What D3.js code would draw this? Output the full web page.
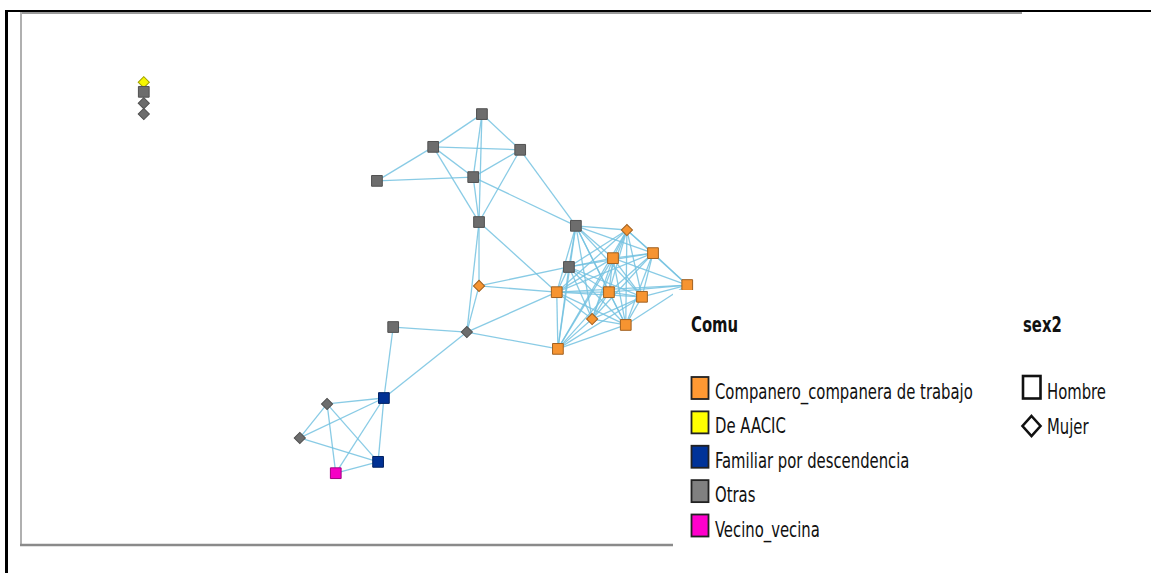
<!DOCTYPE html>
<html>
<head>
<meta charset="utf-8">
<script src="https://cdn.jsdelivr.net/npm/d3@7"></script>
<style>
  html, body { margin: 0; padding: 0; background: #fff; }
  svg { display: block; }
  .lg { font-family: "DejaVu Sans Condensed", "DejaVu Sans", sans-serif; fill: #111; }
</style>
</head>
<body>
<svg id="chart" width="1151" height="573"></svg>
<script>
// Actors of the personal network, with their relation type (Comu) and sex (sex2)
const nodeIds = ["i1","i2","i3","i4","A","B","C","D","E","F","G","H","I","J","K","L","M","N","O","P","Q","R","S","T","U","V","W","X","Y","Z"];
const nodeComu = [
  "De AACIC","Otras","Otras","Otras",
  "Otras","Otras","Otras","Otras","Otras","Otras",
  "Otras","Companero_companera de trabajo","Companero_companera de trabajo","Companero_companera de trabajo",
  "Otras","Companero_companera de trabajo","Companero_companera de trabajo","Companero_companera de trabajo",
  "Companero_companera de trabajo","Companero_companera de trabajo","Companero_companera de trabajo","Companero_companera de trabajo",
  "Companero_companera de trabajo","Otras","Otras","Familiar por descendencia","Otras","Otras",
  "Familiar por descendencia","Vecino_vecina"
];
const nodeSex = [
  "Mujer","Hombre","Mujer","Mujer",
  "Hombre","Hombre","Hombre","Hombre","Hombre","Hombre",
  "Hombre","Mujer","Hombre","Hombre","Hombre","Hombre","Hombre","Hombre",
  "Hombre","Mujer","Hombre","Hombre",
  "Mujer","Mujer","Hombre","Hombre","Mujer","Mujer","Hombre","Hombre"
];
// Layout coordinates (spring-embedded layout, unit square)
const layoutX = [0.041,0.041,0.041,0.041, 0.624,0.540,0.690,0.443,0.609,0.619, 0.786,0.874,0.919,0.850,0.774,0.978,0.753,0.843,0.900,0.814,0.872,0.755, 0.619,0.598,0.471,0.455,0.357,0.310,0.445,0.372];
const layoutY = [0.029,0.052,0.079,0.105, 0.105,0.183,0.190,0.264,0.255,0.362, 0.371,0.381,0.436,0.448,0.469,0.512,0.529,0.529,0.540,0.593,0.607,0.664, 0.514,0.624,0.612,0.781,0.795,0.876,0.933,0.960];

// Ties between actors
const edgeSource = ["A","A","A","A","B","B","B","B","C","C","D","E","C","E","F","F","F","S","S","S","T","T","T","T","U"];
const edgeTarget = ["B","C","E","F","C","D","E","F","E","F","E","F","G","G","S","T","M","K","M","T","M","R","U","V","V"];
const lowerSource = ["V","V","V","V","W","W","W","X","Y"];
const lowerTarget = ["W","X","Y","Z","X","Z","Y","Y","Z"];
// Work-mates clique: nearly every pair is tied
const cliqueMembers = ["G","H","I","J","K","L","M","N","O","P","Q","R"];
const cliqueMissing = ["L-G","L-K","L-R","L-P","I-R"];

const comuCategories = ["Companero_companera de trabajo","De AACIC","Familiar por descendencia","Otras","Vecino_vecina"];
const comuColors = ["#FF9933","#FFFF00","#003399","#808080","#FF00CC"];
const sexCategories = ["Hombre","Mujer"];

const svg = d3.select("#chart");

const color = d3.scaleOrdinal().domain(comuCategories).range(comuColors);
const shape = d3.scaleOrdinal().domain(sexCategories).range(["square","diamond"]);
const x = d3.scaleLinear().domain([0, 1]).range([120, 700]);
const y = d3.scaleLinear().domain([0, 1]).range([70, 490]);

const nodes = nodeIds.map((id, i) => ({ id, comu: nodeComu[i], sex: nodeSex[i], lx: layoutX[i], ly: layoutY[i] }));
const byId = new Map(nodes.map(n => [n.id, n]));

const links = [];
edgeSource.forEach((s, i) => links.push([s, edgeTarget[i]]));
lowerSource.forEach((s, i) => links.push([s, lowerTarget[i]]));
for (let i = 0; i < cliqueMembers.length; i++) {
  for (let j = i + 1; j < cliqueMembers.length; j++) {
    const a = cliqueMembers[i], b = cliqueMembers[j];
    if (cliqueMissing.includes(a + "-" + b) || cliqueMissing.includes(b + "-" + a)) continue;
    links.push([a, b]);
  }
}

// Page frame
svg.append("rect").attr("x", 20).attr("y", 12).attr("width", 1002).attr("height", 533).attr("fill", "#fff");
svg.append("line").attr("x1", 5).attr("x2", 1151).attr("y1", 11).attr("y2", 11).attr("stroke", "#000").attr("stroke-width", 2);
svg.append("line").attr("x1", 6.5).attr("x2", 6.5).attr("y1", 10).attr("y2", 573).attr("stroke", "#000").attr("stroke-width", 3);
svg.append("line").attr("x1", 20).attr("x2", 1022).attr("y1", 13).attr("y2", 13).attr("stroke", "#9a9a9a").attr("stroke-width", 2);
svg.append("line").attr("x1", 21).attr("x2", 21).attr("y1", 12).attr("y2", 546).attr("stroke", "#b0b0b0").attr("stroke-width", 2);
svg.append("line").attr("x1", 20).attr("x2", 673).attr("y1", 545).attr("y2", 545).attr("stroke", "#8a8a8a").attr("stroke-width", 2.5);

// Ties
svg.append("g")
  .selectAll("line")
  .data(links)
  .join("line")
  .attr("x1", d => x(byId.get(d[0]).lx))
  .attr("y1", d => y(byId.get(d[0]).ly))
  .attr("x2", d => x(byId.get(d[1]).lx))
  .attr("y2", d => y(byId.get(d[1]).ly))
  .attr("stroke", "#74c2e0")
  .attr("stroke-opacity", 0.85)
  .attr("stroke-width", 1.3);

// Actors
const sqr = d3.symbol().type(d3.symbolSquare);
svg.append("g")
  .selectAll("path")
  .data(nodes)
  .join("path")
  .attr("d", d => shape(d.sex) === "square" ? sqr.size(115)() : sqr.size(62)())
  .attr("transform", d => `translate(${x(d.lx)},${y(d.ly)})` + (shape(d.sex) === "diamond" ? " rotate(45)" : ""))
  .attr("fill", d => d3.color(color(d.comu)).darker(d.comu === "Otras" ? 0.45 : 0.1))
  .attr("stroke", d => d3.color(color(d.comu)).darker(1.3))
  .attr("stroke-width", 1);

// Legend panel
svg.append("rect").attr("x", 673).attr("y", 290).attr("width", 478).attr("height", 283).attr("fill", "#fff");

const stretch = 1.33;
const lgText = (tx, ty, txt, size, bold) =>
  svg.append("text").attr("class", "lg")
    .attr("transform", `translate(${tx},${ty}) scale(1,${stretch})`)
    .attr("font-size", size)
    .attr("font-weight", bold ? "bold" : "normal")
    .text(txt);

lgText(691, 332, "Comu", 16.5, true);
lgText(1023, 332, "sex2", 16.5, true);

const rowY = d3.scalePoint().domain(comuCategories).range([399, 536.5]);
comuCategories.forEach(c => {
  svg.append("rect")
    .attr("x", 691.5).attr("y", rowY(c) - 22)
    .attr("width", 17).attr("height", 22)
    .attr("fill", color(c)).attr("stroke", "#222").attr("stroke-width", 1.8);
  lgText(715, rowY(c), c, 16.5, false);
});

const sexY = d3.scalePoint().domain(sexCategories).range([399, 433.5]);
// Hombre: open square
svg.append("rect")
  .attr("x", 1023).attr("y", sexY("Hombre") - 23)
  .attr("width", 17.5).attr("height", 22.5)
  .attr("fill", "#fff").attr("stroke", "#111").attr("stroke-width", 2.6);
lgText(1047, sexY("Hombre"), "Hombre", 16.5, false);
// Mujer: open diamond
const mx = 1031.5, my = sexY("Mujer") - 7.5;
svg.append("path")
  .attr("d", `M${mx},${my - 10}L${mx + 9},${my}L${mx},${my + 10}L${mx - 9},${my}Z`)
  .attr("fill", "#fff").attr("stroke", "#111").attr("stroke-width", 2.6);
lgText(1047, sexY("Mujer"), "Mujer", 16.5, false);
</script>
</body>
</html>
